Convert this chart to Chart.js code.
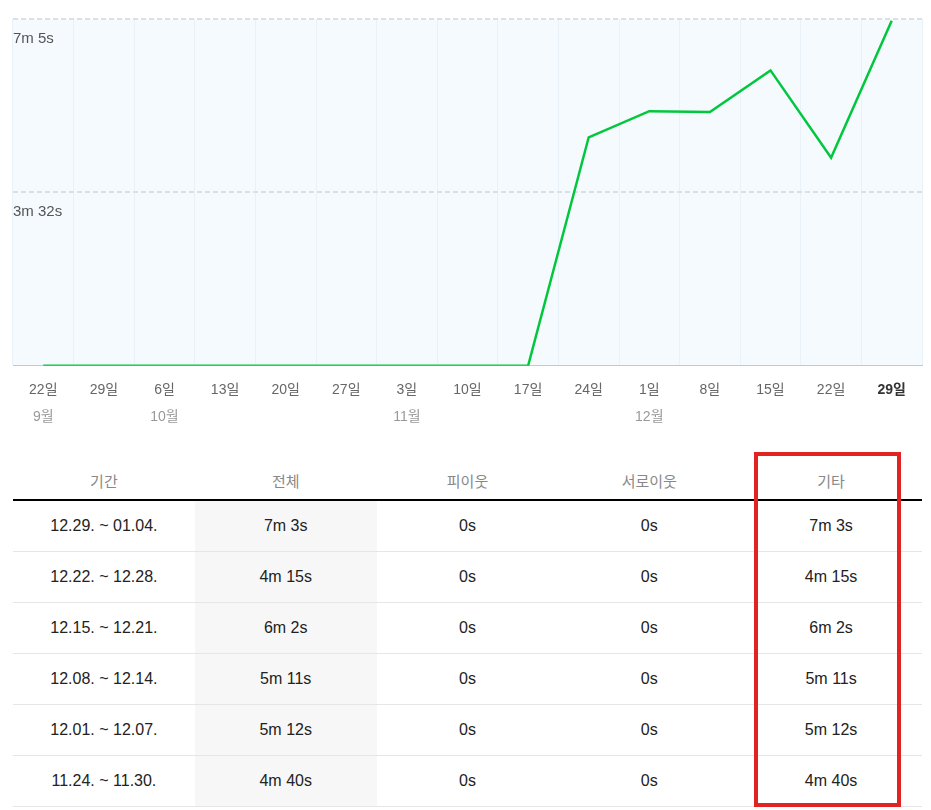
<!DOCTYPE html>
<html lang="ko">
<head>
<meta charset="utf-8">
<script src="https://cdn.jsdelivr.net/npm/chart.js@4"></script>
<style>
  body { margin: 0; background: #fff; font-family: 'Liberation Sans', 'Noto Sans CJK KR', sans-serif; }
  #wrap { position: absolute; left: 0; top: 0; width: 931px; height: 440px; }
  #tbl { position: absolute; left: 13px; top: 459px; width: 909px; border-collapse: collapse; table-layout: fixed; }
  #tbl th { font-weight: normal; color: #888; font-size: 15px; line-height: 18px; padding: 14px 0 8px; border-bottom: 2px solid #000; }
  #tbl td { text-align: center; color: #222; font-size: 16px; height: 50px; padding: 0; border-bottom: 1px solid #e6e6e6; }
  #tbl td.all { background: #f7f7f7; }
  #mark { position: absolute; left: 754px; top: 452px; width: 139px; height: 347px; border: 4.5px solid #e32222; }
</style>
</head>
<body>
<div id="wrap"><canvas id="chart"></canvas></div>
<table id="tbl"><thead><tr></tr></thead><tbody></tbody></table>
<div id="mark"></div>
<script>
// ---------------- données du graphe ----------------
const dayLabels = ['22일', '29일', '6일', '13일', '20일', '27일', '3일', '10일', '17일', '24일', '1일', '8일', '15일', '22일', '29일']
const monthLabels = ['9월', '', '10월', '', '', '', '11월', '', '', '', '12월', '', '', '', '']
const secondsValues = [0, 0, 0, 0, 0, 0, 0, 0, 0, 280, 312, 311, 362, 255, 423] // en secondes
const yTickValues = [0, 212.5, 425]

// ---------------- données du tableau ----------------
const tableHeaders = ['기간', '전체', '피이웃', '서로이웃', '기타']
const periods = ['12.29. ~ 01.04.', '12.22. ~ 12.28.', '12.15. ~ 12.21.', '12.08. ~ 12.14.', '12.01. ~ 12.07.', '11.24. ~ 11.30.']
const totalTimes = ['7m 3s', '4m 15s', '6m 2s', '5m 11s', '5m 12s', '4m 40s']
const neighborTimes = ['0s', '0s', '0s', '0s', '0s', '0s']
const mutualTimes = ['0s', '0s', '0s', '0s', '0s', '0s']
const otherTimes = ['7m 3s', '4m 15s', '6m 2s', '5m 11s', '5m 12s', '4m 40s']

const FONT = "'Liberation Sans', 'Noto Sans CJK KR', sans-serif"

function formatTime(s) {
  const m = Math.floor(s / 60)
  const sec = Math.floor(s % 60)
  return m ? `${m}m ${sec}s` : `${sec}s`
}

// fond bleu clair de la zone du graphe
const areaBackground = {
  id: 'areaBackground',
  beforeDraw(chart) {
    const {ctx, chartArea: a} = chart
    ctx.save()
    ctx.fillStyle = '#f4fafd'
    ctx.fillRect(a.left, a.top, a.right - a.left, a.bottom - a.top)
    ctx.restore()
  }
}

new Chart(document.getElementById('chart'), {
  type: 'line',
  data: {
    labels: dayLabels,
    datasets: [{
      data: secondsValues,
      borderColor: '#00c73c',
      borderWidth: 2.5,
      pointRadius: 0,
      tension: 0,
      fill: false
    }]
  },
  options: {
    responsive: true,
    maintainAspectRatio: false,
    animation: false,
    layout: { padding: { left: 13, right: 9, top: 19, bottom: 22.5 } },
    plugins: { legend: { display: false }, tooltip: { enabled: false } },
    scales: {
      x: {
        offset: true,
        grid: { color: '#e8f2f8', drawTicks: false, offset: true },
        border: { color: '#c8c8c8', width: 1 },
        ticks: {
          autoSkip: false, maxRotation: 0, padding: 16,
          color: (c) => c.index === dayLabels.length - 1 ? '#333' : '#666',
          font: (c) => ({ family: FONT, size: 14, weight: c.index === dayLabels.length - 1 ? 'bold' : 'normal' })
        }
      },
      // ligne des mois sous les jours
      x2: {
        type: 'category',
        labels: monthLabels,
        position: 'bottom',
        offset: true,
        grid: { display: false },
        border: { display: false },
        ticks: { autoSkip: false, maxRotation: 0, padding: -2.5, mirror: true, color: '#999', font: { family: FONT, size: 14, lineHeight: '0px' } }
      },
      y: {
        min: 0,
        max: 425,
        afterBuildTicks: (axis) => { axis.ticks = yTickValues.map(v => ({ value: v })) },
        grid: {
          color: (c) => c.tick && c.tick.value === 0 ? 'rgba(0,0,0,0)' : '#d9e0e6',
          lineWidth: 2,
          drawTicks: false
        },
        border: { display: false, dash: [5, 3] },
        ticks: {
          mirror: true, padding: 0, labelOffset: 20, color: '#555',
          font: { family: FONT, size: 15 },
          callback: (v) => v === 0 ? '' : formatTime(v)
        }
      }
    }
  },
  plugins: [areaBackground]
})

// ---------------- tableau ----------------
const headRow = document.querySelector('#tbl thead tr')
tableHeaders.forEach(h => {
  const th = document.createElement('th')
  th.textContent = h
  headRow.appendChild(th)
})
const tbody = document.querySelector('#tbl tbody')
periods.forEach((p, i) => {
  const tr = document.createElement('tr')
  ;[p, totalTimes[i], neighborTimes[i], mutualTimes[i], otherTimes[i]].forEach((txt, j) => {
    const td = document.createElement('td')
    td.textContent = txt
    if (j === 1) td.className = 'all'
    tr.appendChild(td)
  })
  tbody.appendChild(tr)
})
</script>
</body>
</html>
